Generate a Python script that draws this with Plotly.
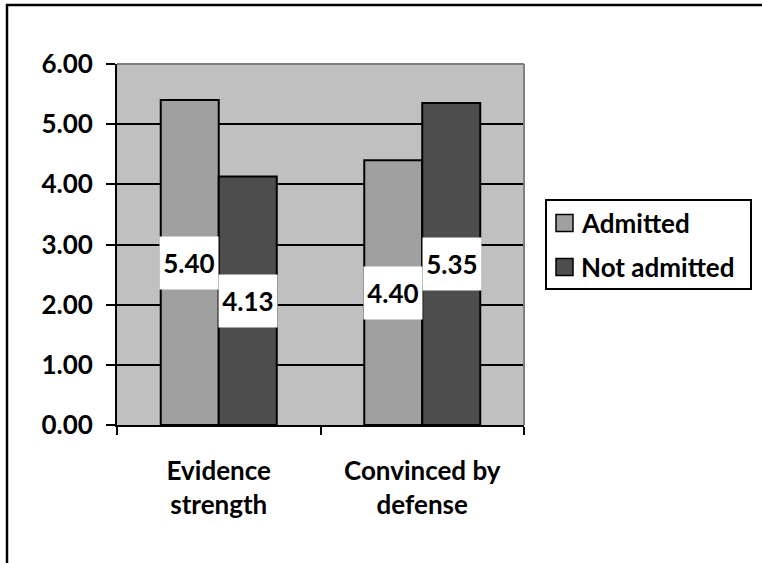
import plotly.graph_objects as go

# ---- data ----
categories = ["Evidence strength", "Convinced by defense"]
tick_labels = ["Evidence<br>strength", "Convinced by<br>defense"]
series_names = ["Admitted", "Not admitted"]
admitted = [5.40, 4.40]
not_admitted = [4.13, 5.35]
series_values = [admitted, not_admitted]
series_colors = ["#a0a0a0", "#4d4d4d"]
y_ticks = [0, 1, 2, 3, 4, 5, 6]

FONT = "Lato, 'Open Sans', sans-serif"
FS = 26
W, H = 762, 563
# plot area on screen: x 117..524, y 64..425
ML, MT = 117, 64
MR, MB = W - 524, H - 425
PW, PH = W - ML - MR, H - MT - MB


def px_x(x):  # screen px -> paper
    return (x - ML) / PW


def px_y(y):
    return (H - MB - y) / PH


fig = go.Figure()
for name, vals, col in zip(series_names, series_values, series_colors):
    fig.add_trace(go.Bar(
        x=categories, y=vals, name=name,
        marker=dict(color=col, line=dict(color="black", width=2)),
        showlegend=False,
    ))

# data labels (white boxes centred in each bar)
offsets = [-29.3, 29.3]
for vals, off in zip(series_values, offsets):
    for c, v in zip(categories, vals):
        fig.add_annotation(
            x=c, y=v / 2, xref="x", yref="y", xshift=off,
            text=f"{v:.2f}", showarrow=False,
            bgcolor="white", width=56, height=50, borderpad=1,
            font=dict(family=FONT, size=FS, color="black", weight="bold"),
        )

shapes = []
# outer chart border (only top and left edges are visible)
shapes.append(dict(type="line", xref="paper", yref="paper",
                   x0=px_x(6), x1=px_x(762), y0=px_y(5), y1=px_y(5),
                   line=dict(color="black", width=2.5), layer="above"))
shapes.append(dict(type="line", xref="paper", yref="paper",
                   x0=px_x(7), x1=px_x(7), y0=px_y(4), y1=px_y(563),
                   line=dict(color="black", width=2.5), layer="above"))
# plot-area top and right border in gray
shapes.append(dict(type="line", xref="paper", yref="paper", x0=0, x1=1, y0=1, y1=1,
                   line=dict(color="#808080", width=2), layer="above"))
shapes.append(dict(type="line", xref="paper", yref="paper", x0=1, x1=1, y0=0, y1=1,
                   line=dict(color="#808080", width=2), layer="above"))
# legend box
shapes.append(dict(type="rect", xref="paper", yref="paper",
                   x0=px_x(546), x1=px_x(751), y0=px_y(289), y1=px_y(200),
                   line=dict(color="black", width=2), fillcolor="white", layer="above"))
legend_y = [223, 267]
for name, col, ly in zip(series_names, series_colors, legend_y):
    shapes.append(dict(type="rect", xref="paper", yref="paper",
                       x0=px_x(556), x1=px_x(573), y0=px_y(ly + 8.5), y1=px_y(ly - 8.5),
                       line=dict(color="black", width=1.5), fillcolor=col, layer="above"))
    fig.add_annotation(x=px_x(579), y=px_y(ly), xref="paper", yref="paper",
                       text=name, showarrow=False, xanchor="left", yanchor="middle",
                       font=dict(family=FONT, size=FS, color="black", weight="bold"))

fig.update_layout(
    width=W, height=H,
    margin=dict(l=ML, r=MR, t=MT, b=MB, pad=0),
    paper_bgcolor="white", plot_bgcolor="#c0c0c0",
    barmode="group", bargap=0.43, bargroupgap=0,
    shapes=shapes,
    showlegend=False,
    font=dict(family=FONT, color="black"),
)
fig.update_xaxes(
    type="category", tickson="boundaries",
    tickvals=categories, ticktext=tick_labels,
    ticks="outside", ticklen=8, tickwidth=2, tickcolor="black",
    showline=True, linecolor="black", linewidth=2,
    showgrid=False,
    tickfont=dict(family=FONT, size=FS, color="black", weight="bold"),
    ticklabelstandoff=22,
)
fig.update_yaxes(
    range=[0, 6], tickvals=y_ticks, tickformat=".2f",
    ticks="outside", ticklen=9, tickwidth=2, tickcolor="black",
    showline=True, linecolor="black", linewidth=2,
    showgrid=True, gridcolor="black", gridwidth=2, zeroline=False,
    tickfont=dict(family=FONT, size=FS, color="black", weight="bold"),
    ticklabelstandoff=8,
)

fig.write_html(
    "out.html", config={"displayModeBar": False},
    post_script="document.body.style.margin='0';document.body.style.overflow='hidden';",
)
